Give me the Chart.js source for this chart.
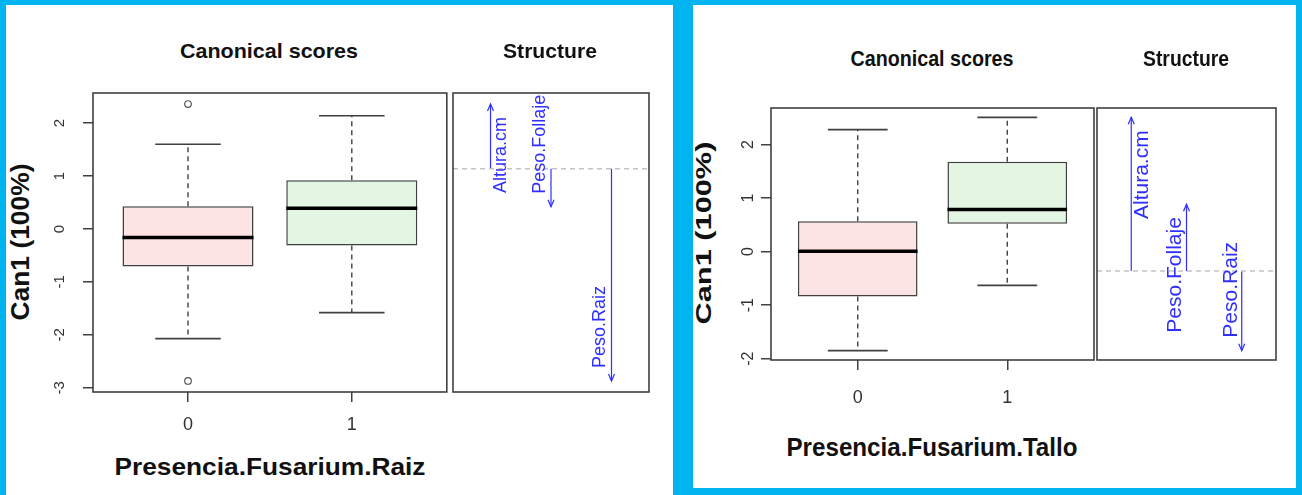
<!DOCTYPE html>
<html>
<head>
<meta charset="utf-8">
<script src="https://cdn.jsdelivr.net/npm/chart.js@4.4.1/dist/chart.umd.min.js"></script>
<style>
  html, body { margin: 0; padding: 0; }
  body { width: 1302px; height: 495px; background: #00b4f0; position: relative; overflow: hidden; }
  .panel { position: absolute; background: #fff; }
  canvas { position: absolute; }
  .txt { position: absolute; white-space: nowrap; line-height: 1; font-family: "Liberation Sans", Arial, sans-serif; }
</style>
</head>
<body>
<div class="panel" style="left:6px;top:5px;width:667px;height:490px"></div>
<div class="panel" style="left:693px;top:5px;width:603px;height:483px"></div>

<canvas id="raizBox" width="412" height="355" style="left:40px;top:85px"></canvas>
<canvas id="raizStruct" width="200" height="303" style="left:451px;top:91px"></canvas>
<canvas id="talloBox" width="378" height="320" style="left:720px;top:100px"></canvas>
<canvas id="talloStruct" width="183" height="256" style="left:1095px;top:106px"></canvas>

<script>
const categories = ["0", "1"];

// Presencia.Fusarium.Raiz
const raizLower = [-2.07, -1.58];
const raizQ1 = [-0.71, -0.31];
const raizMedian = [-0.16, 0.39];
const raizQ3 = [0.43, 0.92];
const raizUpper = [1.60, 2.14];
const raizOutliers = [[2.36, -2.87], []];
const raizTicks = [-3, -2, -1, 0, 1, 2];

// Presencia.Fusarium.Tallo
const talloLower = [-1.85, -0.63];
const talloQ1 = [-0.84, 0.52];
const talloMedian = [0.01, 0.79];
const talloQ3 = [0.57, 1.68];
const talloUpper = [2.28, 2.51];
const talloOutliers = [[], []];
const talloTicks = [-2, -1, 0, 1, 2];

// structure coefficients
const variables = ["Altura.cm", "Peso.Follaje", "Peso.Raiz"];
const raizStructure = [0.29, -0.17, -0.95];
const talloStructure = [0.85, 0.37, -0.44];
const labelSide = [1, -1, -1];

const FONT = '"Liberation Sans", Arial, sans-serif';
const BLUE = "#2f2fff";
const FRAME = "#404040";
Chart.defaults.font.family = FONT;

// R style axis range: data range widened by 4%
function ext(lo, hi) {
  const d = (hi - lo) * 0.04;
  return [lo - d, hi + d];
}

function seg(ctx, x1, y1, x2, y2) {
  ctx.beginPath();
  ctx.moveTo(x1, y1);
  ctx.lineTo(x2, y2);
  ctx.stroke();
}

function boxExtras(d) {
  return {
    id: "boxExtras",
    afterDatasetsDraw(chart) {
      const { ctx, chartArea: a, scales: { x, y } } = chart;
      const bars = chart.getDatasetMeta(0).data;
      ctx.save();
      bars.forEach((bar, i) => {
        const cx = x.getPixelForValue(i + 1);
        const hw = bar.width / 2;
        const yU = y.getPixelForValue(d.upper[i]);
        const yL = y.getPixelForValue(d.lower[i]);
        ctx.strokeStyle = FRAME;
        ctx.lineWidth = 1.4;
        ctx.setLineDash([5, 4]);
        seg(ctx, cx, y.getPixelForValue(d.q3[i]), cx, yU);
        seg(ctx, cx, y.getPixelForValue(d.q1[i]), cx, yL);
        ctx.setLineDash([]);
        ctx.lineWidth = 1.6;
        seg(ctx, cx - hw / 2, yU, cx + hw / 2, yU);
        seg(ctx, cx - hw / 2, yL, cx + hw / 2, yL);
        const ym = y.getPixelForValue(d.median[i]);
        ctx.strokeStyle = "#000";
        ctx.lineWidth = 3.5;
        seg(ctx, cx - hw, ym, cx + hw, ym);
      });
      ctx.strokeStyle = FRAME;
      ctx.lineWidth = 1.6;
      ctx.strokeRect(a.left, a.top, a.right - a.left, a.bottom - a.top);
      ctx.restore();
    }
  };
}

function boxChart(id, d, lay) {
  const all = [...d.lower, ...d.upper, ...d.outliers.flat()];
  const [ymin, ymax] = ext(Math.min(...all), Math.max(...all));
  const [xmin, xmax] = ext(0.5, categories.length + 0.5);
  const outPts = [];
  d.outliers.forEach((arr, i) => arr.forEach(v => outPts.push({ x: i + 1, y: v })));

  return new Chart(document.getElementById(id), {
    type: "bar",
    data: {
      datasets: [
        {
          data: categories.map((c, i) => ({ x: i + 1, y: [d.q1[i], d.q3[i]] })),
          backgroundColor: ["#fde4e4", "#e3f6e3"],
          borderColor: FRAME,
          borderWidth: 1.5,
          borderSkipped: false,
          barPercentage: 0.8,
          categoryPercentage: 1
        },
        {
          type: "scatter",
          data: outPts,
          pointRadius: 3.3,
          pointBorderWidth: 1.2,
          pointBorderColor: "#555",
          pointBackgroundColor: "rgba(0,0,0,0)"
        }
      ]
    },
    options: {
      responsive: false,
      animation: false,
      events: [],
      layout: { padding: { top: lay.top, right: lay.right, left: 0, bottom: 0 } },
      plugins: { legend: { display: false }, tooltip: { enabled: false } },
      scales: {
        x: {
          type: "linear",
          min: xmin,
          max: xmax,
          offset: false,
          afterBuildTicks: s => { s.ticks = categories.map((c, i) => ({ value: i + 1 })); },
          ticks: {
            callback: v => categories[v - 1],
            font: { size: lay.xFont },
            color: "#333",
            padding: lay.xPad,
            autoSkip: false,
            maxRotation: 0
          },
          grid: { offset: false, drawOnChartArea: false, tickLength: 10, tickColor: FRAME, lineWidth: 1.5 },
          border: { display: false },
          afterFit: s => {
            s.height = lay.xAxis;
            s.paddingLeft = 0; s.paddingRight = 0;
          }
        },
        y: {
          min: ymin,
          max: ymax,
          afterBuildTicks: s => { s.ticks = d.ticks.map(v => ({ value: v })); },
          ticks: {
            minRotation: 90,
            maxRotation: 90,
            crossAlign: "center",
            padding: lay.yPad,
            font: { size: lay.yFont },
            color: "#333"
          },
          grid: { drawOnChartArea: false, tickLength: 10, tickColor: FRAME, lineWidth: 1.5 },
          border: { display: false },
          afterFit: s => {
            s.width = lay.yAxis;
            s.paddingTop = 0; s.paddingBottom = 0;
          }
        }
      }
    },
    plugins: [boxExtras(d)]
  });
}

function structExtras(vals, fontSize) {
  return {
    id: "structExtras",
    afterDatasetsDraw(chart) {
      const { ctx, chartArea: a, scales: { x, y } } = chart;
      ctx.save();
      ctx.strokeStyle = BLUE;
      ctx.fillStyle = BLUE;
      ctx.lineWidth = 1.2;
      ctx.font = fontSize + "px " + FONT;
      vals.forEach((v, i) => {
        const px = x.getPixelForValue(i + 1);
        const py = y.getPixelForValue(v);
        const dir = v >= 0 ? -1 : 1;
        ctx.beginPath();
        ctx.moveTo(px - 3, py - dir * 7);
        ctx.lineTo(px, py);
        ctx.lineTo(px + 3, py - dir * 7);
        ctx.stroke();
        ctx.save();
        ctx.translate(px + labelSide[i] * 11, py - dir * 13);
        ctx.rotate(-Math.PI / 2);
        ctx.textAlign = v >= 0 ? "right" : "left";
        ctx.textBaseline = "middle";
        ctx.fillText(variables[i], 0, 0);
        ctx.restore();
      });
      ctx.strokeStyle = FRAME;
      ctx.lineWidth = 1.6;
      ctx.strokeRect(a.left, a.top, a.right - a.left, a.bottom - a.top);
      ctx.restore();
    }
  };
}

function structChart(id, vals, fontSize) {
  const [ymin, ymax] = ext(Math.min(0, ...vals), Math.max(0, ...vals));
  const [xmin, xmax] = ext(0.5, vals.length + 0.5);
  const arrows = vals.map((v, i) => ({
    data: [{ x: i + 1, y: 0 }, { x: i + 1, y: v }],
    showLine: true,
    borderColor: BLUE,
    borderWidth: 1.2,
    pointRadius: 0
  }));
  const zero = {
    data: [{ x: xmin, y: 0 }, { x: xmax, y: 0 }],
    showLine: true,
    borderColor: "#c4c4c4",
    borderDash: [5, 4],
    borderWidth: 1.5,
    pointRadius: 0
  };
  return new Chart(document.getElementById(id), {
    type: "scatter",
    data: { datasets: [zero, ...arrows] },
    options: {
      responsive: false,
      animation: false,
      events: [],
      layout: { padding: 2 },
      plugins: { legend: { display: false }, tooltip: { enabled: false } },
      scales: {
        x: { type: "linear", min: xmin, max: xmax, display: false },
        y: { min: ymin, max: ymax, display: false }
      }
    },
    plugins: [structExtras(vals, fontSize)]
  });
}

boxChart("raizBox", {
  lower: raizLower, q1: raizQ1, median: raizMedian, q3: raizQ3, upper: raizUpper,
  outliers: raizOutliers, ticks: raizTicks
}, { top: 8, right: 4, yAxis: 53, xAxis: 48, xPad: 12, yPad: 16, xFont: 18, yFont: 15 });

boxChart("talloBox", {
  lower: talloLower, q1: talloQ1, median: talloMedian, q3: talloQ3, upper: talloUpper,
  outliers: talloOutliers, ticks: talloTicks
}, { top: 8, right: 4, yAxis: 51, xAxis: 60, xPad: 17, yPad: 5, xFont: 18, yFont: 16 });

structChart("raizStruct", raizStructure, 18);
structChart("talloStruct", talloStructure, 21);

// titles and axis titles
const texts = [
  { text: "Canonical scores", x: 269, y: 50, size: 21, len: 178 },
  { text: "Structure", x: 550, y: 50, size: 21, len: 94 },
  { text: "Presencia.Fusarium.Raiz", x: 270, y: 467, size: 24, len: 311 },
  { text: "Can1 (100%)", x: 20, y: 242, size: 25, len: 157, rot: -90 },
  { text: "Canonical scores", x: 932, y: 59, size: 22, len: 163 },
  { text: "Structure", x: 1186, y: 59, size: 22, len: 86 },
  { text: "Presencia.Fusarium.Tallo", x: 932, y: 447, size: 25, len: 291 },
  { text: "Can1 (100%)", x: 704, y: 233, size: 22, len: 183, rot: -90 }
];

texts.forEach(t => {
  const el = document.createElement("div");
  el.className = "txt";
  el.textContent = t.text;
  el.style.left = t.x + "px";
  el.style.top = t.y + "px";
  el.style.fontSize = t.size + "px";
  el.style.fontWeight = "bold";
  el.style.color = "#111";
  document.body.appendChild(el);
  const w = el.getBoundingClientRect().width;
  const sx = t.len / w;
  el.style.transform = `translate(-50%, -50%) rotate(${t.rot || 0}deg) scaleX(${sx})`;
});
</script>
</body>
</html>
